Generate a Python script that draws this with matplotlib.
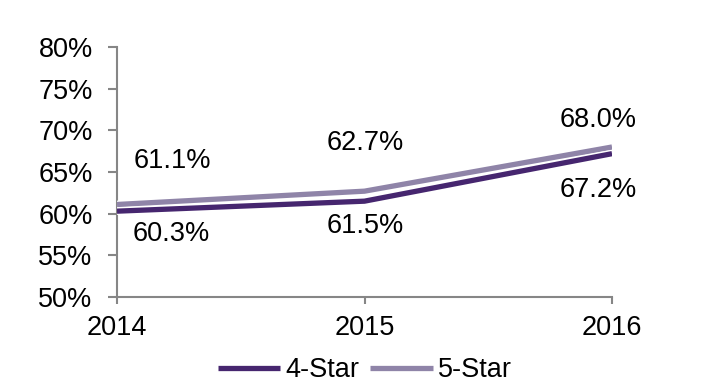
import matplotlib.pyplot as plt
import matplotlib.patheffects as pe

plt.rcParams['font.family'] = ['Liberation Sans', 'DejaVu Sans']

years = ['2014', '2015', '2016']
four_star = [60.3, 61.5, 67.2]
five_star = [61.1, 62.7, 68.0]

# label offsets in pixels (dx, dy)
five_offsets = [(55, 44), (1, 48), (-14, 27)]
four_offsets = [(54, -23), (1, -25), (-14, -36)]

c4 = '#46266f'
c5 = '#8f84a8'
axis_grey = '#868686'

fig = plt.figure(figsize=(7.16, 3.88), dpi=100)
ax = fig.add_axes([117/716, 1-297/388, (612-117)/716, 250/388])

x = list(range(len(years)))
white_edge = [pe.Stroke(linewidth=5.5, foreground='white'), pe.Normal()]
ax.plot(x, five_star, color=c5, lw=3.8, label='5-Star', solid_capstyle='butt',
        path_effects=white_edge, zorder=3)
ax.plot(x, four_star, color=c4, lw=3.8, label='4-Star', solid_capstyle='butt',
        path_effects=white_edge, zorder=4)

for i in x:
    ax.annotate(f'{five_star[i]:.1f}%', (i, five_star[i]), xytext=five_offsets[i],
                textcoords='offset pixels', ha='center', va='center', fontsize=19.5)
    ax.annotate(f'{four_star[i]:.1f}%', (i, four_star[i]), xytext=four_offsets[i],
                textcoords='offset pixels', ha='center', va='center', fontsize=19.5)

ax.set_xlim(0, 2)
ax.set_ylim(50, 80)
ax.set_xticks(x)
ax.set_xticklabels(years)
ax.set_yticks(range(50, 81, 5))
ax.set_yticklabels([f'{v}%' for v in range(50, 81, 5)])

for s in ['top', 'right']:
    ax.spines[s].set_visible(False)
for s in ['left', 'bottom']:
    ax.spines[s].set_color(axis_grey)
    ax.spines[s].set_linewidth(1.5)
ax.tick_params(axis='y', length=6.5, width=1.5, color=axis_grey, labelsize=19.5, pad=11)
ax.tick_params(axis='x', length=5, width=1.5, color=axis_grey, labelsize=19.5, pad=8)

h, l = ax.get_legend_handles_labels()
fig.legend(h[::-1], l[::-1], loc='center', bbox_to_anchor=(365/716, 1-370/388), ncol=2,
           frameon=False, fontsize=19.5, handlelength=2.3, handletextpad=0.2,
           columnspacing=0.4, borderaxespad=0)

fig.savefig('out.png', dpi=100)
